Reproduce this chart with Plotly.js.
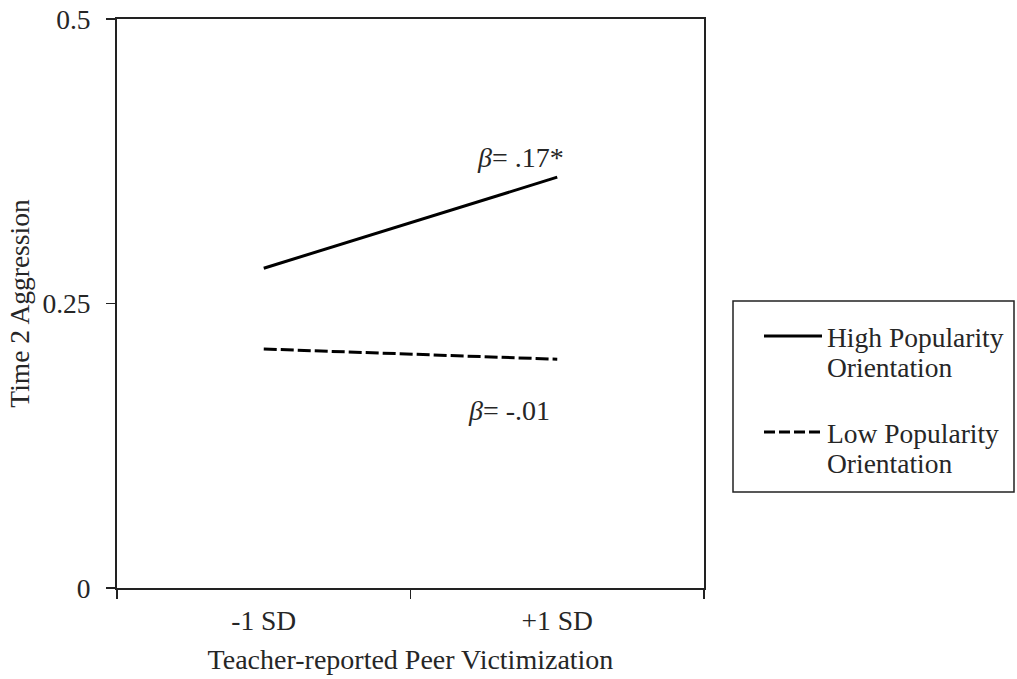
<!DOCTYPE html>
<html>
<head>
<meta charset="utf-8">
<script src="https://cdn.plot.ly/plotly-3.0.1.min.js"></script>
<style>html,body{margin:0;padding:0;background:#fff;}#chart{width:1017px;height:679px;}</style>
</head>
<body>
<div id="chart"></div>
<script>
// ---- data ----
const categories = ["-1 SD", "+1 SD"];
const seriesNames = ["High Popularity<br>Orientation", "Low Popularity<br>Orientation"];
const highValues = [0.281, 0.361];
const lowValues = [0.210, 0.201];
const betaLabels = ["<i>β</i>= .17*", "<i>β</i>= -.01"];
const yTickValues = [0, 0.25, 0.5];
const yTickLabels = ["0", "0.25", "0.5"];

// ---- layout helpers ----
const W = 1017, H = 679;
const M = {l: 117, r: 313, t: 19, b: 91};
const pw = W - M.l - M.r, ph = H - M.t - M.b;
const px2x = p => (p - M.l) / pw;
const px2y = p => (H - M.b - p) / ph;
const FONT = "Liberation Serif, Times New Roman, serif";
const TXT = "#262626";
const FS = 27.5;

const traces = [
  {x: categories, y: highValues, name: seriesNames[0], type: "scatter", mode: "lines",
   line: {color: "#000", width: 3}, showlegend: false, hoverinfo: "skip"},
  {x: categories, y: lowValues, name: seriesNames[1], type: "scatter", mode: "lines",
   line: {color: "#000", width: 3, dash: "13px,4px"}, showlegend: false, hoverinfo: "skip"}
];

// manual legend (box + samples + text lines)
const shapes = [
  {type: "rect", xref: "paper", yref: "paper", x0: px2x(733), x1: px2x(1014), y0: px2y(301), y1: px2y(492),
   line: {color: "#222", width: 1.5}, fillcolor: "rgba(0,0,0,0)"},
  {type: "line", xref: "paper", yref: "paper", x0: px2x(764), x1: px2x(822), y0: px2y(336), y1: px2y(336),
   line: {color: "#000", width: 3}},
  {type: "line", xref: "paper", yref: "paper", x0: px2x(764), x1: px2x(822), y0: px2y(432), y1: px2y(432),
   line: {color: "#000", width: 3, dash: "11px,4px"}}
];

const annotations = [];
const legendTop = [337, 433];
seriesNames.forEach((nm, i) => {
  nm.split("<br>").forEach((ln, j) => {
    annotations.push({xref: "paper", yref: "paper", x: px2x(825), y: px2y(legendTop[i] + j * 30),
      xanchor: "left", yanchor: "middle", text: ln, showarrow: false,
      font: {family: FONT, size: FS, color: TXT}});
  });
});
// beta labels
annotations.push({xref: "paper", yref: "paper", x: px2x(520), y: px2y(157), text: betaLabels[0],
  showarrow: false, xanchor: "center", yanchor: "middle", font: {family: FONT, size: 28, color: TXT}});
annotations.push({xref: "paper", yref: "paper", x: px2x(509), y: px2y(410), text: betaLabels[1],
  showarrow: false, xanchor: "center", yanchor: "middle", font: {family: FONT, size: 28, color: TXT}});

const layout = {
  width: W, height: H,
  margin: M,
  paper_bgcolor: "#fff", plot_bgcolor: "#fff",
  font: {family: FONT, size: FS, color: TXT},
  showlegend: false,
  xaxis: {
    type: "category", range: [-0.5, 1.5], tickson: "boundaries",
    showgrid: false, zeroline: false,
    showline: true, linecolor: "#222", linewidth: 2, mirror: true,
    ticks: "outside", ticklen: 9, tickwidth: 1.5, tickcolor: "#222",
    ticklabelstandoff: 7,
    tickfont: {family: FONT, size: FS, color: TXT},
    title: {text: "Teacher-reported Peer Victimization", standoff: 14,
            font: {family: FONT, size: 28, color: TXT}}
  },
  yaxis: {
    range: [0, 0.5], tickvals: yTickValues, ticktext: yTickLabels,
    showgrid: false, zeroline: false,
    showline: true, linecolor: "#222", linewidth: 2, mirror: true,
    ticks: "outside", ticklen: 9, tickwidth: 1.5, tickcolor: "#222",
    ticklabelstandoff: 10,
    tickfont: {family: FONT, size: FS, color: TXT},
    title: {text: "Time 2 Aggression", standoff: 5,
            font: {family: FONT, size: FS, color: TXT}}
  },
  shapes: shapes,
  annotations: annotations
};

Plotly.newPlot("chart", traces, layout, {staticPlot: true, displayModeBar: false});
</script>
</body>
</html>
